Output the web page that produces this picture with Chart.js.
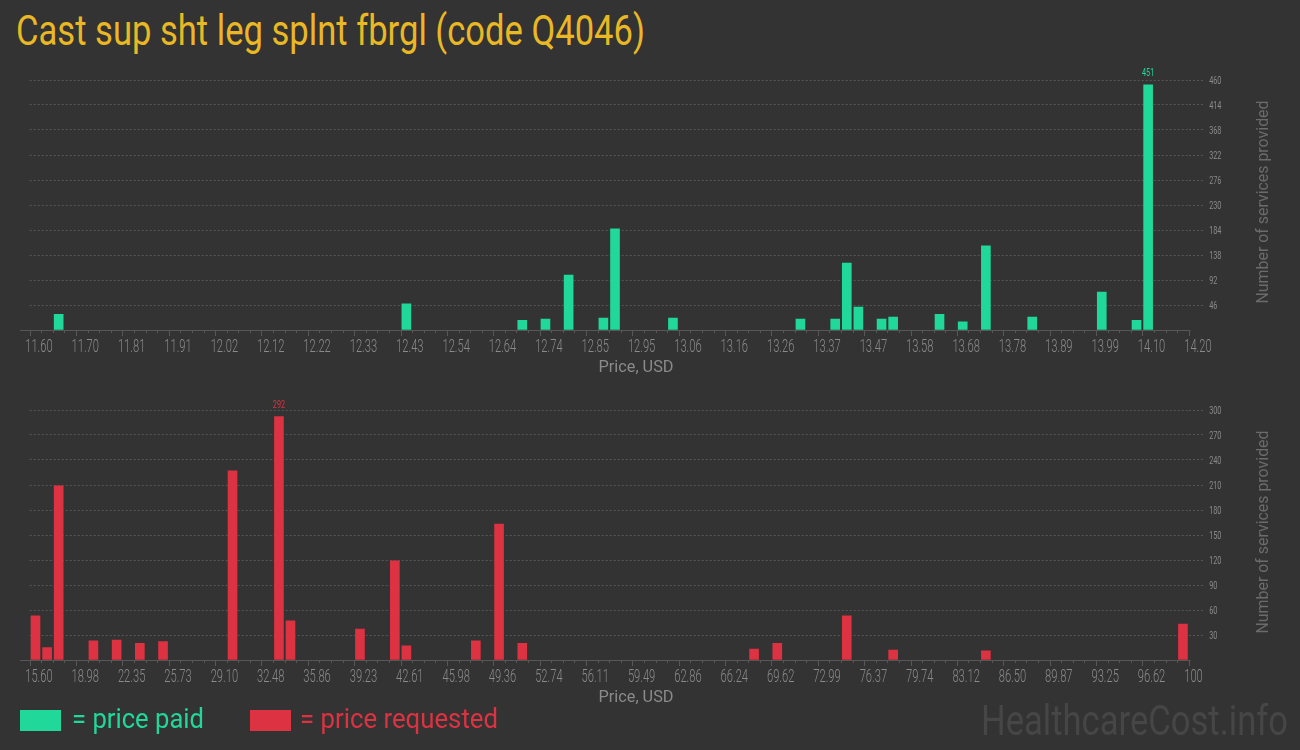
<!DOCTYPE html>
<html lang="en">
<head>
<meta charset="UTF-8">
<title>Cast sup sht leg splnt fbrgl (code Q4046)</title>
<script src="https://cdn.jsdelivr.net/npm/chart.js"></script>
<style>
    body {
        margin: 0;
        width: 1300px;
        height: 750px;
        overflow: hidden;
        position: relative;
        background-color: #333333;
        font-family: Roboto, "Noto Sans", sans-serif;
    }
    canvas {
        position: absolute;
        left: 0;
    }
    #paid-chart { top: 60px; }
    #requested-chart { top: 390px; }
    .squeeze {
        position: absolute;
        white-space: nowrap;
        transform-origin: 0 0;
    }
    #title { left: 16px; top: 10px; font-size: 42px; line-height: 42px; color: #e9b824; }
    .swatch { position: absolute; top: 710px; width: 41px; height: 21px; }
    #paid-swatch { left: 20px; background: #21d89b; }
    #requested-swatch { left: 250px; background: #dc3242; }
    #paid-label { left: 72px; top: 706px; font-size: 27px; line-height: 27px; color: #21d89b; }
    #requested-label { left: 300px; top: 706px; font-size: 27px; line-height: 27px; color: #dc3242; }
    #watermark { left: 981px; top: 700px; font-size: 42px; line-height: 42px; color: #464646; }
</style>
</head>
<body>
    <div id="title" class="squeeze" data-w="629">Cast sup sht leg splnt fbrgl (code Q4046)</div>

    <canvas id="paid-chart" width="1300" height="330"></canvas>
    <canvas id="requested-chart" width="1300" height="330"></canvas>

    <div id="paid-swatch" class="swatch"></div>
    <div id="paid-label" class="squeeze" data-w="132">= price paid</div>
    <div id="requested-swatch" class="swatch"></div>
    <div id="requested-label" class="squeeze" data-w="198">= price requested</div>
    <div id="watermark" class="squeeze" data-w="307">HealthcareCost.info</div>

<script>
// price paid (USD, bin centres) and number of services
const paidPrices = [11.665, 12.445, 12.705, 12.757, 12.809, 12.887, 12.913, 13.043, 13.329, 13.407, 13.433,
                    13.459, 13.511, 13.537, 13.641, 13.693, 13.745, 13.849, 14.005, 14.083, 14.109];
const paidCounts = [29, 48, 18, 20, 101, 22, 186, 22, 20, 20, 123,
                    42, 20, 24, 29, 15, 155, 24, 70, 18, 451];

// price requested (USD, bin centres) and number of services
const requestedPrices = [16.02, 16.87, 17.71, 20.24, 21.93, 23.62, 25.31, 30.37, 33.75, 34.59, 39.65,
                         42.19, 43.03, 48.09, 49.78, 51.47, 68.35, 70.04, 75.10, 78.48, 85.23, 99.58];
const requestedCounts = [53, 15, 209, 23, 24, 20, 22, 227, 292, 47, 37,
                         119, 17, 23, 163, 20, 13, 20, 53, 12, 11, 43];

// axis tick labels
const paidTickLabels = ["11.60", "11.70", "11.81", "11.91", "12.02", "12.12", "12.22", "12.33", "12.43", "12.54",
                        "12.64", "12.74", "12.85", "12.95", "13.06", "13.16", "13.26", "13.37", "13.47", "13.58",
                        "13.68", "13.78", "13.89", "13.99", "14.10", "14.20"];
const requestedTickLabels = ["15.60", "18.98", "22.35", "25.73", "29.10", "32.48", "35.86", "39.23", "42.61", "45.98",
                             "49.36", "52.74", "56.11", "59.49", "62.86", "66.24", "69.62", "72.99", "76.37", "79.74",
                             "83.12", "86.50", "89.87", "93.25", "96.62", "100"];
const paidYTicks = [46, 92, 138, 184, 230, 276, 322, 368, 414, 460];
const requestedYTicks = [30, 60, 90, 120, 150, 180, 210, 240, 270, 300];

const GREEN = "#21d89b";
const RED = "#dc3242";
const TICK_GREY = "#8a8a8a";
const LINE_GREY = "#575757";

// draw text squeezed horizontally (condensed look)
function squeezeText(ctx, text, x, y, font, color, sx, align) {
    ctx.save();
    ctx.font = font;
    ctx.fillStyle = color;
    ctx.textAlign = align || "left";
    ctx.textBaseline = "alphabetic";
    ctx.translate(x, y);
    ctx.scale(sx, 1);
    ctx.fillText(text, 0, 0);
    ctx.restore();
}

// axis line, tick marks, tick labels, titles and peak value
const axisText = {
    id: "axisText",
    afterDraw(chart, args, opts) {
        const ctx = chart.ctx;
        const area = chart.chartArea;
        const xs = chart.scales.x;
        const ys = chart.scales.y;

        // baseline and tick marks
        ctx.save();
        ctx.strokeStyle = LINE_GREY;
        ctx.lineWidth = 1;
        ctx.beginPath();
        ctx.moveTo(20, area.bottom + 0.5);
        ctx.lineTo(area.right + 2, area.bottom + 0.5);
        ctx.stroke();
        const steps = (opts.xLabels.length - 1) * 4;
        for (let i = 0; i <= steps; i++) {
            const px = Math.round(xs.getPixelForValue(xs.min + i * (xs.max - xs.min) / steps)) + 0.5;
            const len = i % 4 === 0 ? 5 : 2;
            ctx.beginPath();
            ctx.moveTo(px, area.bottom + 1);
            ctx.lineTo(px, area.bottom + 1 + len);
            ctx.stroke();
        }
        ctx.restore();

        // x tick labels
        opts.xLabels.forEach((lab, i) => {
            const px = xs.getPixelForValue(xs.min + i * (xs.max - xs.min) / (opts.xLabels.length - 1));
            squeezeText(ctx, lab, px - 4.5, area.bottom + 21.5, "300 18px Roboto", TICK_GREY, 0.62);
        });

        // y tick labels
        opts.yLabels.forEach(v => {
            squeezeText(ctx, String(v), area.right + 20.5, ys.getPixelForValue(v) + 4, "11px Roboto", TICK_GREY, 0.66);
        });

        // x title
        ctx.save();
        ctx.font = "16px Roboto";
        const xt = "Price, USD";
        const xsx = 75 / ctx.measureText(xt).width;
        ctx.restore();
        squeezeText(ctx, xt, 636, area.bottom + 42, "16px Roboto", TICK_GREY, xsx, "center");

        // y title, reading bottom to top
        ctx.save();
        ctx.font = "17px Roboto";
        const yt = "Number of services provided";
        const ysx = 203 / ctx.measureText(yt).width;
        ctx.fillStyle = "#6b6b6b";
        ctx.textAlign = "center";
        ctx.textBaseline = "alphabetic";
        ctx.translate(1268, (area.top + area.bottom) / 2 - 3);
        ctx.rotate(-Math.PI / 2);
        ctx.scale(ysx, 1);
        ctx.fillText(yt, 0, 0);
        ctx.restore();

        // label over the tallest bar
        const meta = chart.getDatasetMeta(0);
        const values = chart.data.datasets[0].data.map(d => d.y);
        const top = values.indexOf(Math.max(...values));
        const bar = meta.data[top];
        squeezeText(ctx, String(values[top]), bar.x, bar.y - 9, "11px Roboto", opts.color, 0.66, "center");
    }
};

function makeChart(id, prices, counts, color, xLabels, yTicks) {
    return new Chart(document.getElementById(id), {
        type: "bar",
        data: {
            datasets: [{
                data: prices.map((p, i) => ({ x: p, y: counts[i] })),
                backgroundColor: color,
                barThickness: 9
            }]
        },
        options: {
            responsive: false,
            animation: false,
            layout: { padding: { left: 29.7, top: 20, right: 0, bottom: 0 } },
            plugins: {
                legend: { display: false },
                tooltip: { enabled: false },
                axisText: { xLabels: xLabels, yLabels: yTicks, color: color }
            },
            scales: {
                x: {
                    type: "linear",
                    min: parseFloat(xLabels[0]),
                    max: parseFloat(xLabels[xLabels.length - 1]),
                    offset: false,
                    grid: { display: false },
                    border: { display: false },
                    ticks: { display: false },
                    afterFit: s => { s.height = 60; }
                },
                y: {
                    position: "right",
                    min: 0,
                    max: yTicks[yTicks.length - 1],
                    border: { display: false, dash: [2, 2] },
                    grid: {
                        color: ctx => ctx.tick && ctx.tick.value === 0 ? "rgba(0,0,0,0)" : "#565656",
                        tickColor: ctx => ctx.tick && ctx.tick.value === 0 ? "rgba(0,0,0,0)" : "#565656",
                        drawTicks: true,
                        tickLength: 16,
                        tickBorderDash: [2, 2]
                    },
                    ticks: { display: false },
                    afterBuildTicks: s => { s.ticks = [0].concat(yTicks).map(v => ({ value: v })); },
                    afterFit: s => { s.width = 1300 - 1188.7; }
                }
            }
        },
        plugins: [axisText]
    });
}

makeChart("paid-chart", paidPrices, paidCounts, GREEN, paidTickLabels, paidYTicks);
makeChart("requested-chart", requestedPrices, requestedCounts, RED, requestedTickLabels, requestedYTicks);

// condensed look for the html texts
document.querySelectorAll(".squeeze").forEach(el => {
    const w = el.getBoundingClientRect().width;
    el.style.transform = "scaleX(" + (parseFloat(el.dataset.w) / w) + ")";
});
</script>
</body>
</html>
